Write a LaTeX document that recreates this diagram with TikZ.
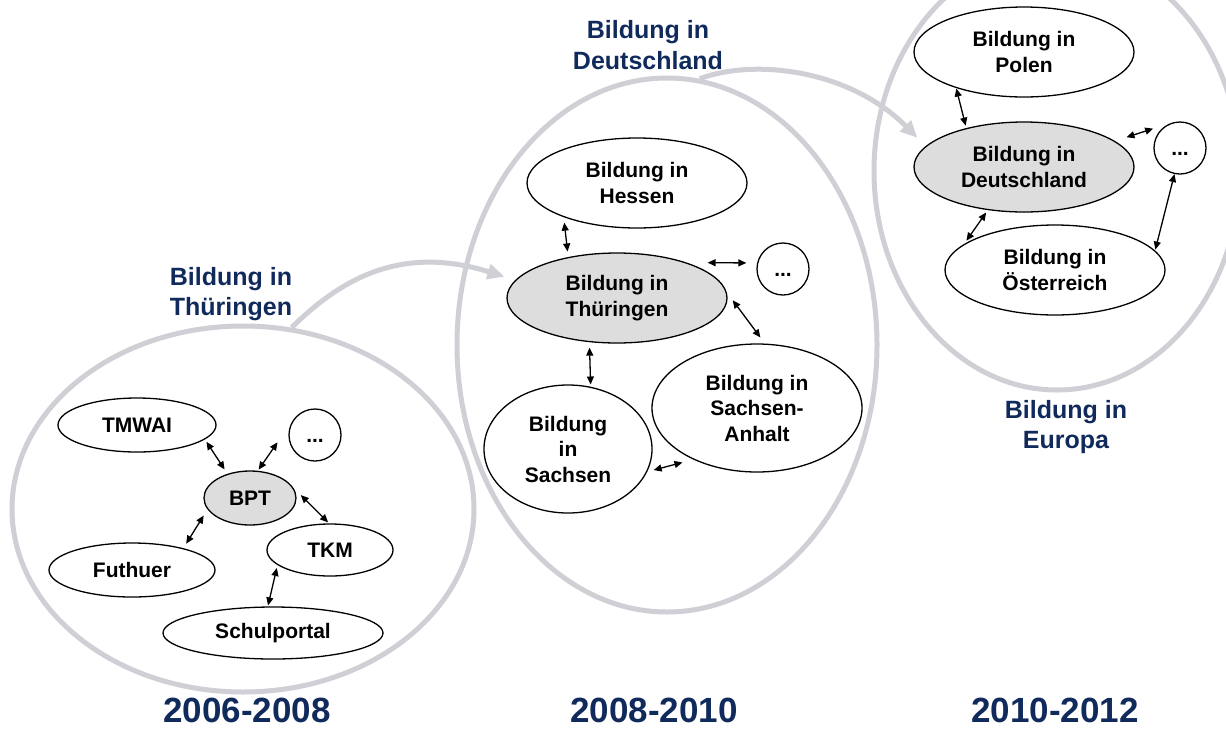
\documentclass[tikz,border=0pt]{standalone}
\usepackage{fontspec}
\setmainfont{Liberation Sans}
\usetikzlibrary{arrows.meta,shapes.geometric}
\definecolor{ringgrey}{RGB}{207,207,214}
\definecolor{navy}{RGB}{17,42,92}
\definecolor{nodegrey}{RGB}{221,221,221}
\begin{document}
\begin{tikzpicture}[x=1pt,y=-1pt,
  ring/.style={ellipse, draw=ringgrey, line width=5pt, inner sep=0pt},
  flow/.style={draw=ringgrey, line width=5pt, -{Triangle[length=17pt,width=15pt]}},
  bub/.style={ellipse, draw=black, line width=1.3pt, fill=white, inner sep=0pt, align=center, font=\fontsize{21}{25.5}\selectfont\bfseries},
  hub/.style={bub, fill=nodegrey},
  dotc/.style={circle, draw=black, line width=1.3pt, fill=white, inner sep=0pt, minimum size=52pt, font=\fontsize{21}{25.5}\selectfont\bfseries},
  link/.style={line width=1.3pt, {Triangle[length=8pt,width=7pt]}-{Triangle[length=8pt,width=7pt]}},
  lbl/.style={text=navy, align=center, font=\fontsize{25}{30.5}\selectfont\bfseries},
  year/.style={text=navy, inner sep=0pt, font=\fontsize{35}{40}\selectfont\bfseries}]
\useasboundingbox (0,0) rectangle (1226,729);
\clip (0,0) rectangle (1226,729);

% big rings
\node[ring, minimum width=462pt, minimum height=366pt] (ringL) at (243,509) {};
\node[ring, minimum width=420pt, minimum height=534pt] (ringM) at (667,345) {};
\node[ring, minimum width=366pt, minimum height=438pt] (ringR) at (1057,171) {};

% left group
\node[bub, minimum width=158pt, minimum height=54pt] (tmwai) at (137,425) {TMWAI};
\node[dotc] (dotsA) at (315,435) {\vphantom{B}...};
\node[hub, minimum width=92pt, minimum height=54pt] (bpt) at (250,498) {BPT};
\node[bub, minimum width=166pt, minimum height=54pt] (futhuer) at (132,570) {Futhuer};
\node[bub, minimum width=126pt, minimum height=52pt] (tkm) at (330,550) {TKM};
\node[bub, minimum width=220pt, minimum height=52pt] (schul) at (273,633) {Schulportal};

% middle group
\node[bub, minimum width=220pt, minimum height=90pt] (hessen) at (637,183) {Bildung in\\Hessen};
\node[hub, minimum width=220pt, minimum height=90pt] (thur) at (617,298) {Bildung in\\Thüringen};
\node[dotc] (dotsB) at (783,269) {\vphantom{B}...};
\node[bub, minimum width=210pt, minimum height=128pt] (sa) at (757,408) {Bildung in\\Sachsen-\\Anhalt};
\node[bub, minimum width=168pt, minimum height=128pt] (sachsen) at (568,449) {Bildung\\in\\Sachsen};

% right group
\node[bub, minimum width=220pt, minimum height=90pt] (polen) at (1024,52) {Bildung in\\Polen};
\node[hub, minimum width=220pt, minimum height=90pt] (de) at (1024,167) {Bildung in\\Deutschland};
\node[dotc] (dotsC) at (1180,148) {\vphantom{B}...};
\node[bub, minimum width=220pt, minimum height=90pt] (ost) at (1055,270) {Bildung in\\Österreich};

% labels
\node[lbl] (lblT) at (231,294) {Bildung in\\Thüringen};
\node[lbl] (lblD) at (648,45) {Bildung in\\Deutschland};
\node[lbl] (lblE) at (1066,427) {Bildung in\\Europa};
\node[year] (y1) at (247,710) {2006-2008};
\node[year] (y2) at (654,710) {2008-2010};
\node[year] (y3) at (1055,710) {2010-2012};

% grey flows
\draw[flow, shorten >=11.3pt] (ringL.75) .. controls (340,280) and (400,244) .. (thur.170);
\draw[flow, shorten >=11.7pt] (ringM.83) .. controls (755,58) and (850,70) .. (de.168);

% links
\draw[link, shorten <=2.8pt, shorten >=5.2pt] (tmwai.-12) -- (bpt.133);
\draw[link, shorten <=1.4pt, shorten >=27pt] (bpt.74) -- (dotsA.146);
\draw[link, shorten <=11pt, shorten >=1.4pt] (bpt.14) -- (tkm.92);
\draw[link, shorten <=7.2pt, shorten >=5.3pt] (bpt.195) -- (futhuer.23);
\draw[link, shorten <=3pt, shorten >=1pt] (tkm.196) -- (schul.101);

\draw[link, shorten <=5.5pt, shorten >=5.6pt] (hessen.205) -- (thur.140);
\draw[link, shorten <=21pt, shorten >=10.7pt] (thur.27) -- (dotsB.167);
\draw[link, shorten <=10pt, shorten >=7.6pt] (thur.3) -- (sa.83);
\draw[link, shorten <=5.4pt, shorten >=2.2pt] (thur.238) -- (sachsen.70);
\draw[link, shorten <=6.6pt, shorten >=11.2pt] (sachsen.-16) -- (sa.219);

\draw[link, shorten <=0.5pt, shorten >=2.5pt] (polen.208) -- (de.146);
\draw[link, shorten <=12.2pt, shorten >=20pt] (de.16) -- (dotsC.107);
\draw[link, shorten <=2.9pt, shorten >=4pt] (de.230) -- (ost.164);
\draw[link, shorten <=0pt, shorten >=1pt] (dotsC.258) -- (ost.11);
\end{tikzpicture}
\end{document}
